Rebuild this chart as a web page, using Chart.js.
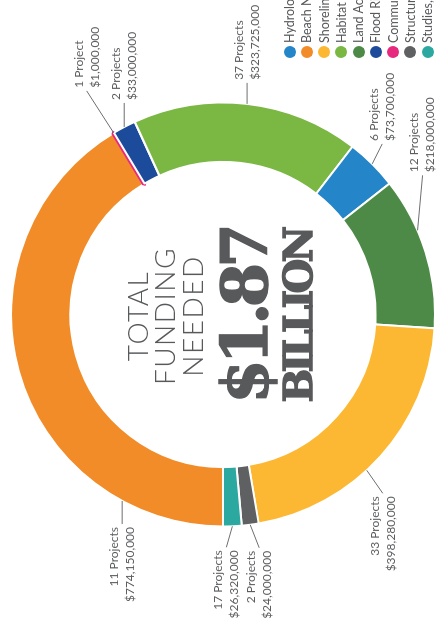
<!DOCTYPE html>
<html lang="en">
<head>
  <meta charset="UTF-8" />
  <title>Total Funding Needed</title>
  <script src="https://cdn.jsdelivr.net/npm/chart.js@4.4.1/dist/chart.umd.min.js"></script>
  <style>
    * { margin: 0; padding: 0; }
    body { width: 442px; height: 635px; overflow: hidden; background: #fff; font-family: Lato, "Open Sans", sans-serif; }
    /* the whole figure is laid out landscape and turned a quarter turn */
    .stage { position: absolute; left: 0; top: 0; width: 635px; height: 442px; transform-origin: 0 0; transform: translate(0, 635px) rotate(-90deg); }
    #chart { position: absolute; left: 0; top: 0; }
    .ctr { position: absolute; left: 0; width: 638px; text-align: center; line-height: 1; white-space: nowrap; color: #58595b; }
    .thin { font-family: Lato, sans-serif; font-weight: 300; font-size: 28px; letter-spacing: 1.5px; }
    .big { font-family: "DejaVu Serif", serif; font-weight: bold; -webkit-text-stroke: 1.4px #58595b; }
    .legend { position: absolute; left: 577px; top: 281px; list-style: none; }
    .legend li { height: 17.25px; display: flex; align-items: center; white-space: nowrap; font-size: 12.5px; color: #58595b; }
    .legend span { display: inline-block; width: 12px; height: 12px; border-radius: 50%; margin-right: 3px; flex: none; }
  </style>
</head>
<body>
  <div class="stage">
    <canvas id="chart" width="635" height="442"></canvas>
    <div class="ctr thin" style="top:123px">TOTAL</div>
    <div class="ctr thin" style="top:150px">FUNDING</div>
    <div class="ctr thin" style="top:178px">NEEDED</div>
    <div class="ctr big" id="total" style="top:213px;font-size:64px;letter-spacing:-5px"></div>
    <div class="ctr big" style="top:278px;font-size:40px;letter-spacing:-3.7px">BILLION</div>
    <ul class="legend" id="legend"></ul>
  </div>
  <script>
    const categories = [
      "Beach Nourishment",
      "Community Resilience",
      "Flood Risk Reduction",
      "Habitat Restoration",
      "Hydrologic Restoration",
      "Land Acquisition",
      "Shoreline Protection",
      "Structural Protection",
      "Studies, Planning & Monitoring",
    ];
    const funding = [774150000, 1000000, 33000000, 323725000, 73700000, 218000000, 398280000, 24000000, 26320000];
    const projects = [11, 1, 2, 37, 6, 12, 33, 2, 17];
    const legendOrder = [
      "Hydrologic Restoration",
      "Beach Nourishment",
      "Shoreline Protection",
      "Habitat Restoration",
      "Land Acquisition",
      "Flood Risk Reduction",
      "Community Resilience",
      "Structural Protection",
      "Studies, Planning & Monitoring",
    ];

    const colors = ["#f28c28", "#e6287f", "#1c4b9c", "#7ab743", "#2485c9", "#4e8a47", "#fdb833", "#5f6062", "#2ba9a1"];

    const total = funding.reduce((a, b) => a + b, 0);
    // white gaps between slices, but a sliver keeps a thick border in its own colour so it stays visible
    const tiny = funding.map((v) => v / total < 0.005);
    const borders = colors.map((c, i) => (tiny[i] ? c : "#ffffff"));
    const borderWidths = tiny.map((t) => (t ? 4.5 : 2));

    // where each callout sits: optional angle on the ring (deg), then leader offset
    const labelLayout = [
      { angle: -151.6, dx: -23, dy: 0 },
      { dx: 42, dy: -27 },
      { dx: 24, dy: 0 },
      { dx: 21, dy: 0 },
      { dx: 20, dy: 10 },
      { angle: 66.6, dx: 55, dy: 5 },
      { angle: 137.3, dx: -23, dy: 16 },
      { dx: -23, dy: 9 },
      { dx: -21, dy: -6 },
    ];

    document.getElementById("total").textContent = "$" + (total / 1e9).toFixed(2);

    const legend = document.getElementById("legend");
    legendOrder.forEach(function (name) {
      const li = document.createElement("li");
      const dot = document.createElement("span");
      dot.style.background = colors[categories.indexOf(name)];
      li.appendChild(dot);
      li.appendChild(document.createTextNode(name));
      legend.appendChild(li);
    });

    const leaderLabels = {
      id: "leaderLabels",
      afterDatasetsDraw(chart) {
        const ctx = chart.ctx;
        const arcs = chart.getDatasetMeta(0).data;
        ctx.save();
        ctx.font = "12px Lato, sans-serif";
        ctx.fillStyle = "#5d5e60";
        ctx.strokeStyle = "#6d6e71";
        ctx.lineWidth = 1;
        ctx.textBaseline = "middle";
        arcs.forEach((arc, i) => {
          const p = arc.getProps(["x", "y", "startAngle", "endAngle", "outerRadius"], true);
          const lay = labelLayout[i];
          const a = lay.angle !== undefined ? lay.angle * Math.PI / 180 : (p.startAngle + p.endAngle) / 2;
          const sx = p.x + Math.cos(a) * p.outerRadius;
          const sy = p.y + Math.sin(a) * p.outerRadius;
          const ex = sx + lay.dx;
          const ey = sy + lay.dy;
          ctx.beginPath();
          ctx.moveTo(sx, sy);
          ctx.lineTo(ex, ey);
          ctx.stroke();
          const right = lay.dx > 0;
          ctx.textAlign = right ? "left" : "right";
          const tx = ex + (right ? 3 : -3);
          const n = projects[i];
          ctx.fillText(n + (n === 1 ? " Project" : " Projects"), tx, ey - 8);
          ctx.fillText("$" + funding[i].toLocaleString("en-US"), tx, ey + 8);
        });
        ctx.restore();
      },
    };

    const ctx = document.getElementById("chart").getContext("2d");
    const myChart = new Chart(ctx, {
      type: "doughnut",
      data: {
        labels: categories,
        datasets: [
          {
            data: funding,
            backgroundColor: colors,
            borderColor: borders,
            borderWidth: borderWidths,
          },
        ],
      },
      options: {
        responsive: false,
        animation: false,
        rotation: -90,
        radius: 212,
        cutout: 156,
        layout: { padding: { left: 6, top: 4, right: 0, bottom: 0 } },
        plugins: {
          legend: { display: false },
          tooltip: { enabled: false },
        },
      },
      plugins: [leaderLabels],
    });
  </script>
</body>
</html>
